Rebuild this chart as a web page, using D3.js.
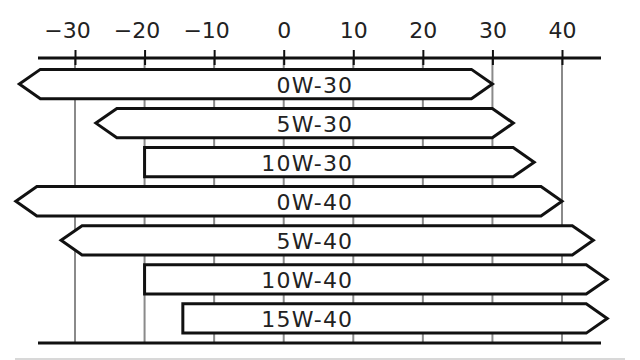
<!DOCTYPE html>
<html>
<head>
<meta charset="utf-8">
<script src="https://cdn.jsdelivr.net/npm/d3@7"></script>
<style>
  body { margin: 0; background: #fff; }
  svg { display: block; }
</style>
</head>
<body>
<div id="chart"></div>
<script>
// oil grades and their temperature ranges (deg C), tip to tip
let grades = ["0W-30", "5W-30", "10W-30", "0W-40", "5W-40", "10W-40", "15W-40"];
let lowTemp = [-38, -27, -20, -38.5, -32, -20, -14.5];
let highTemp = [30, 33, 36, 40, 44.5, 46.5, 46.5];
let lowArrow = [true, true, false, true, true, false, false];
let highArrow = [true, true, true, true, true, true, true];
let tickValues = [-30, -20, -10, 0, 10, 20, 30, 40];

let width = 640;
let height = 360;
let axisY = 58;
let bottomY = 343;
let lineLeft = 38;
let lineRight = 601;
let head = 21;       // arrow head depth in px

let x = d3.scaleLinear()
    .domain([-30, 40])
    .range([75, 562]);

let y = d3.scaleBand()
    .domain(grades)
    .range([64.5, 338])
    .paddingInner(0.25)
    .paddingOuter(0.125);

let svg = d3.select("#chart")
    .append("svg")
    .attr("width", width)
    .attr("height", height);

// grid lines
svg.append("g")
    .selectAll("line")
    .data(tickValues)
    .enter().append("line")
    .attr("x1", d => x(d))
    .attr("x2", d => x(d))
    .attr("y1", axisY)
    .attr("y2", bottomY)
    .attr("stroke", "#8a8a8a")
    .attr("stroke-width", 2);

// top axis
let axis = svg.append("g")
    .attr("transform", "translate(0," + axisY + ")")
    .call(d3.axisTop(x)
        .tickValues(tickValues)
        .tickSize(8)
        .tickPadding(12)
        .tickFormat(d => d < 0 ? "\u2212" + Math.abs(d) : d));

axis.select(".domain").remove();
axis.selectAll(".tick line")
    .attr("stroke", "#111")
    .attr("stroke-width", 2)
    .attr("y2", -8)
    .attr("y1", 7);
axis.selectAll(".tick text")
    .attr("dx", d => d < 0 ? -8 : 0)
    .style("font-family", "DejaVu Sans, sans-serif")
    .style("font-size", "22px")
    .attr("fill", "#222");

svg.append("line")
    .attr("x1", lineLeft).attr("x2", lineRight)
    .attr("y1", axisY).attr("y2", axisY)
    .attr("stroke", "#111")
    .attr("stroke-width", 3);

svg.append("line")
    .attr("x1", lineLeft).attr("x2", lineRight)
    .attr("y1", bottomY).attr("y2", bottomY)
    .attr("stroke", "#111")
    .attr("stroke-width", 3);

// faint line at the image bottom
svg.append("line")
    .attr("x1", 15).attr("x2", 625)
    .attr("y1", 359).attr("y2", 359)
    .attr("stroke", "#d8d8d8")
    .attr("stroke-width", 2);

let rows = grades.map((g, i) => ({
    name: g, lo: lowTemp[i], hi: highTemp[i], la: lowArrow[i], ha: highArrow[i]
}));

function arrowPath(d) {
    let top = y(d.name);
    let bot = top + y.bandwidth();
    let mid = (top + bot) / 2;
    let x0 = x(d.lo);
    let x1 = x(d.hi);
    let p = d3.path();
    if (d.la) {
        p.moveTo(x0 + head, top);
    } else {
        p.moveTo(x0, top);
    }
    if (d.ha) {
        p.lineTo(x1 - head, top);
        p.lineTo(x1, mid);
        p.lineTo(x1 - head, bot);
    } else {
        p.lineTo(x1, top);
        p.lineTo(x1, bot);
    }
    if (d.la) {
        p.lineTo(x0 + head, bot);
        p.lineTo(x0, mid);
    } else {
        p.lineTo(x0, bot);
    }
    p.closePath();
    return p.toString();
}

let bars = svg.append("g")
    .selectAll("g")
    .data(rows)
    .enter().append("g");

bars.append("path")
    .attr("d", arrowPath)
    .attr("fill", "#fff")
    .attr("stroke", "#111")
    .attr("stroke-width", 3)
    .attr("stroke-linejoin", "miter");

bars.append("text")
    .attr("x", x(10))
    .attr("y", d => y(d.name) + y.bandwidth() / 2 + 1)
    .attr("text-anchor", "end")
    .attr("dominant-baseline", "central")
    .style("font-family", "DejaVu Sans, sans-serif")
    .style("font-size", "22px")
    .style("letter-spacing", "1.2px")
    .attr("fill", "#222")
    .text(d => d.name);
</script>
</body>
</html>
